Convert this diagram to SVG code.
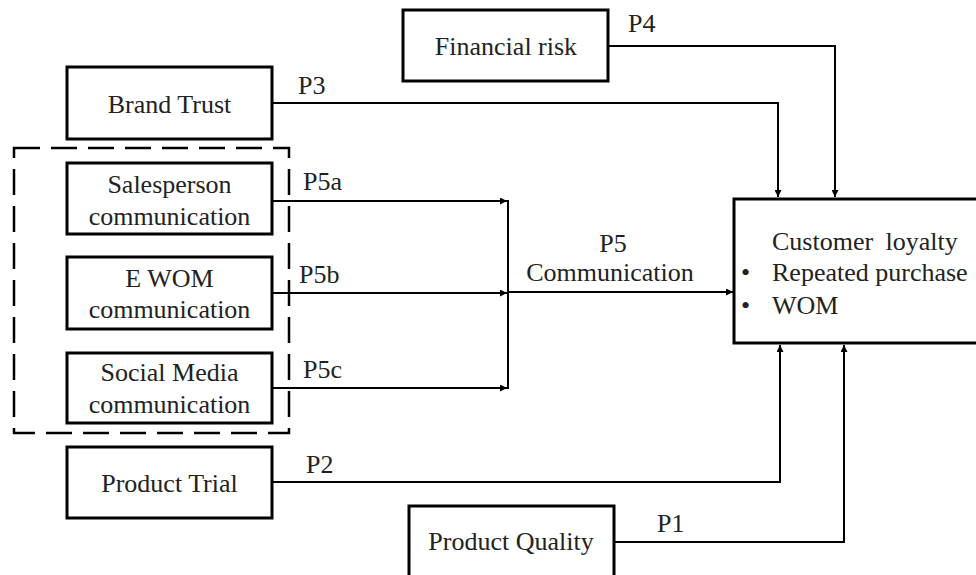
<svg xmlns="http://www.w3.org/2000/svg" width="976" height="575" viewBox="0 0 976 575">
<style>
.box{fill:#fff;stroke:#000;stroke-width:3}
.t{font-family:"Liberation Serif","Times New Roman",serif;font-size:26px;fill:#222}
.c{text-anchor:middle}
.ln{fill:none;stroke:#000;stroke-width:2}
.dash{fill:none;stroke:#000;stroke-width:2.5;stroke-dasharray:26 11}
</style>
<defs>
<marker id="ah" markerUnits="userSpaceOnUse" markerWidth="7" markerHeight="7" refX="7" refY="3.5" orient="auto">
<path d="M0,0 L7,3.5 L0,7 z" fill="#000"/>
</marker>
</defs>
<rect width="976" height="575" fill="#fff"/>
<rect class="dash" x="14" y="148" width="275" height="285"/>
<g id="financial-risk"><rect class="box" x="403" y="10" width="205" height="71"/><text class="t c" x="506" y="55">Financial risk</text></g>
<g id="brand-trust"><rect class="box" x="67" y="67" width="205" height="72"/><text class="t c" x="169.5" y="113">Brand Trust</text></g>
<g id="salesperson"><rect class="box" x="67" y="163" width="205" height="71"/><text class="t c" x="169.5" y="193">Salesperson</text><text class="t c" x="169.5" y="225">communication</text></g>
<g id="ewom"><rect class="box" x="67" y="257" width="205" height="72"/><text class="t c" x="169.5" y="287">E WOM</text><text class="t c" x="169.5" y="318">communication</text></g>
<g id="social-media"><rect class="box" x="67" y="353" width="205" height="70"/><text class="t c" x="169.5" y="381">Social Media</text><text class="t c" x="169.5" y="413">communication</text></g>
<g id="product-trial"><rect class="box" x="67" y="447" width="205" height="71"/><text class="t c" x="169.5" y="492">Product Trial</text></g>
<g id="product-quality"><rect class="box" x="409" y="506" width="205" height="80"/><text class="t c" x="511" y="550">Product Quality</text></g>
<g id="customer-loyalty"><rect class="box" x="734" y="199" width="250" height="144"/>
<text class="t" x="772" y="250" word-spacing="6">Customer loyalty</text>
<text class="t" x="741" y="281">•</text><text class="t" x="772" y="281">Repeated purchase</text>
<text class="t" x="741" y="314">•</text><text class="t" x="772" y="314">WOM</text></g>
<g id="connectors">
<path class="ln" d="M608,46 H835 V197" marker-end="url(#ah)"/>
<path class="ln" d="M272,103 H778 V197" marker-end="url(#ah)"/>
<path class="ln" d="M272,201 H507" marker-end="url(#ah)"/>
<path class="ln" d="M272,293 H507" marker-end="url(#ah)"/>
<path class="ln" d="M272,388 H507" marker-end="url(#ah)"/>
<path class="ln" d="M508,200 V389"/>
<path class="ln" d="M508,292 H733" marker-end="url(#ah)"/>
<path class="ln" d="M272,482 H780 V345" marker-end="url(#ah)"/>
<path class="ln" d="M614,542 H844 V345" marker-end="url(#ah)"/>
</g>
<g id="labels">
<text class="t" x="628" y="32">P4</text>
<text class="t" x="298" y="94">P3</text>
<text class="t" x="303" y="190">P5a</text>
<text class="t" x="299" y="283">P5b</text>
<text class="t" x="303" y="378">P5c</text>
<text class="t c" x="613" y="252">P5</text>
<text class="t c" x="610" y="281">Communication</text>
<text class="t" x="306" y="473">P2</text>
<text class="t" x="657" y="532">P1</text>
</g>
</svg>
